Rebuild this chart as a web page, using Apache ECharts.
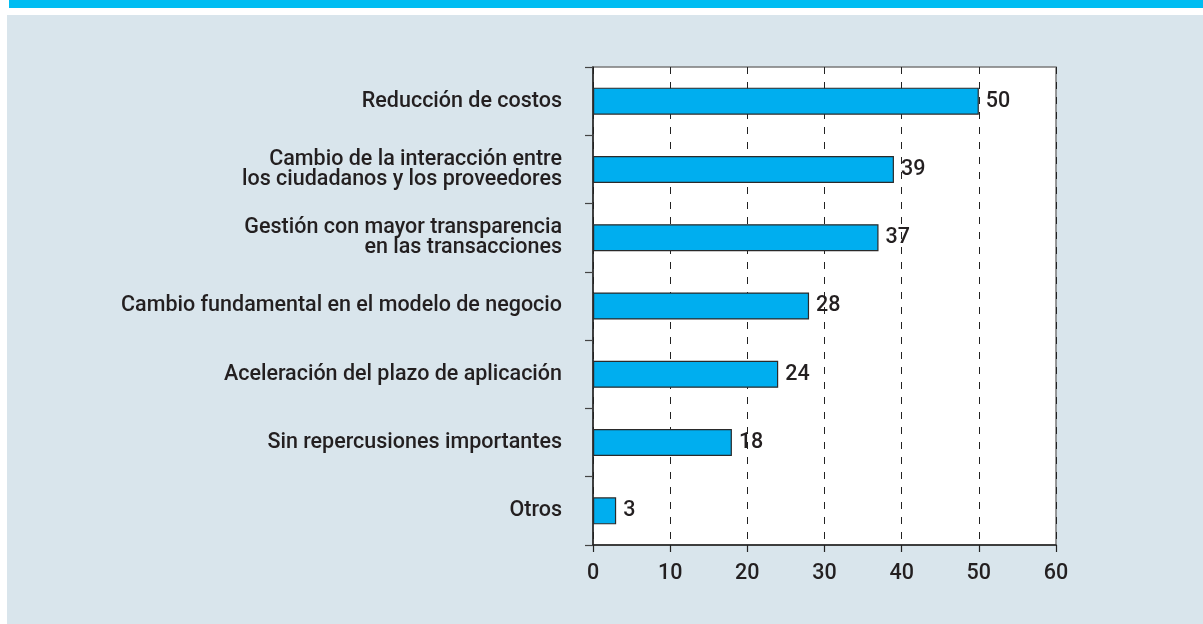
<!DOCTYPE html>
<html>
<head>
    <meta charset="utf-8">
    <title>ECharts</title>
    <script src="https://cdn.jsdelivr.net/npm/echarts@6/dist/echarts.min.js"></script>
    <style>
        body { margin: 0; background: #fff; }
        #topband { position: absolute; left: 9px; top: 0; width: 1194px; height: 8px; background: #00BDF2; }
        #panel { position: absolute; left: 7px; top: 15px; width: 1196px; height: 609px; background: #D9E5EC; }
        #chart { position: absolute; left: 0; top: 0; width: 1203px; height: 624px; }
    </style>
</head>
<body>
    <div id="topband"></div>
    <div id="panel"></div>
    <div id="chart"></div>
    <script type="text/javascript">
        // categories bottom to top (category axis on y starts at the bottom)
        var categories = [
            'Otros',
            'Sin repercusiones importantes',
            'Aceleración del plazo de aplicación',
            'Cambio fundamental en el modelo de negocio',
            'Gestión con mayor transparencia\nen las transacciones',
            'Cambio de la interacción entre\nlos ciudadanos y los proveedores',
            'Reducción de costos'
        ];
        var values = [3, 18, 24, 28, 37, 39, 50];
        var xTicks = [0, 10, 20, 30, 40, 50, 60];

        var textColor = '#231F20';
        var font = 'Roboto';
        var fsize = 21.5;

        var chart = echarts.init(document.getElementById('chart'));
        var option = {
            animation: false,
            grid: { left: 593, top: 67, right: 147, bottom: 79, show: true,
                    backgroundColor: '#fff', borderColor: '#7a7a7a', borderWidth: 1.5 },
            xAxis: {
                type: 'value',
                min: xTicks[0],
                max: xTicks[xTicks.length - 1],
                interval: 10,
                axisLine: { show: true, onZero: false, lineStyle: { color: '#222', width: 1.5 } },
                axisTick: { show: true, length: 7, lineStyle: { color: '#222', width: 1.2 } },
                axisLabel: { color: textColor, fontFamily: font, fontSize: fsize, fontWeight: 500, margin: 18 },
                splitLine: { show: true, lineStyle: { color: '#222', width: 1, type: [7, 8] } }
            },
            yAxis: {
                type: 'category',
                data: categories,
                axisLine: { show: true, lineStyle: { color: '#222', width: 1.5 } },
                axisTick: { show: true, length: 8, lineStyle: { color: '#444', width: 1.2 } },
                axisLabel: { color: textColor, fontFamily: font, fontSize: fsize, fontWeight: 500,
                             margin: 31, lineHeight: 20, align: 'right' },
                splitLine: { show: false }
            },
            series: [{
                type: 'bar',
                data: values,
                barWidth: 27,
                itemStyle: { color: '#00AEEF', borderColor: '#2a2a2a', borderWidth: 1.2 },
                label: { show: true, position: 'right', distance: 7, color: textColor,
                         fontFamily: font, fontSize: fsize, fontWeight: 500 }
            }]
        };
        chart.setOption(option);
    </script>
</body>
</html>
